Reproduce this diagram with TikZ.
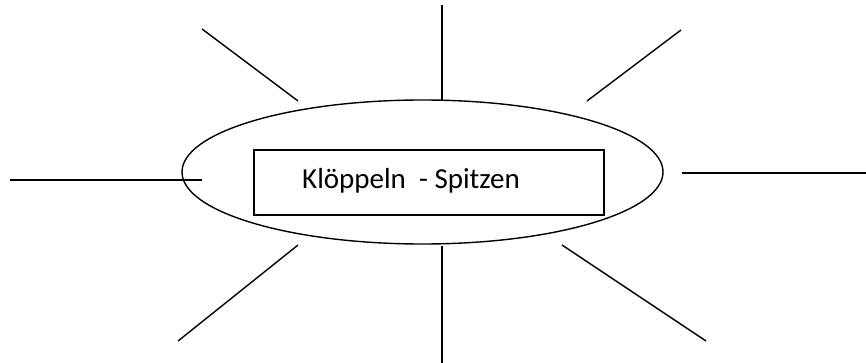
\documentclass[tikz,border=0pt]{standalone}
\usepackage{fontspec}
\setmainfont{Carlito}
\usetikzlibrary{shapes.geometric}
\begin{document}
\begin{tikzpicture}[x=1pt,y=-1pt,
  ray/.style={line width=1.4pt, black},
  oval/.style={draw, ellipse, line width=1.4pt, minimum width=481pt, minimum height=144pt, inner sep=0pt},
  titlebox/.style={draw, line width=1.4pt, minimum width=350pt, minimum height=65pt, inner sep=0pt}]
  \useasboundingbox (0,0) rectangle (866,363);
  % central oval and title box
  \node[oval] (oval) at (422.5,172) {};
  \node[titlebox] (box) at (429,182.5) {};
  \node[anchor=base west, inner sep=0pt, font=\fontsize{29}{33}\selectfont] (title) at (302,189) {Klöppeln\ \ - Spitzen};
  % free ends of the rays
  \coordinate (n1) at (442,5);    \coordinate (n2) at (442,100);
  \coordinate (nw1) at (202,29);  \coordinate (nw2) at (298,101);
  \coordinate (ne1) at (681,30);  \coordinate (ne2) at (587,101);
  \coordinate (w1) at (10,180);   \coordinate (w2) at (202,180);
  \coordinate (e1) at (682,173);  \coordinate (e2) at (866,173);
  \coordinate (sw1) at (298,245); \coordinate (sw2) at (178,341);
  \coordinate (s1) at (442,246);  \coordinate (s2) at (442,363);
  \coordinate (se1) at (562,245); \coordinate (se2) at (706,341);
  % rays
  \draw[ray] (n1) -- (n2);
  \draw[ray] (nw1) -- (nw2);
  \draw[ray] (ne1) -- (ne2);
  \draw[ray] (w1) -- (w2);
  \draw[ray] (e1) -- (e2);
  \draw[ray] (sw1) -- (sw2);
  \draw[ray] (s1) -- (s2);
  \draw[ray] (se1) -- (se2);
\end{tikzpicture}
\end{document}
